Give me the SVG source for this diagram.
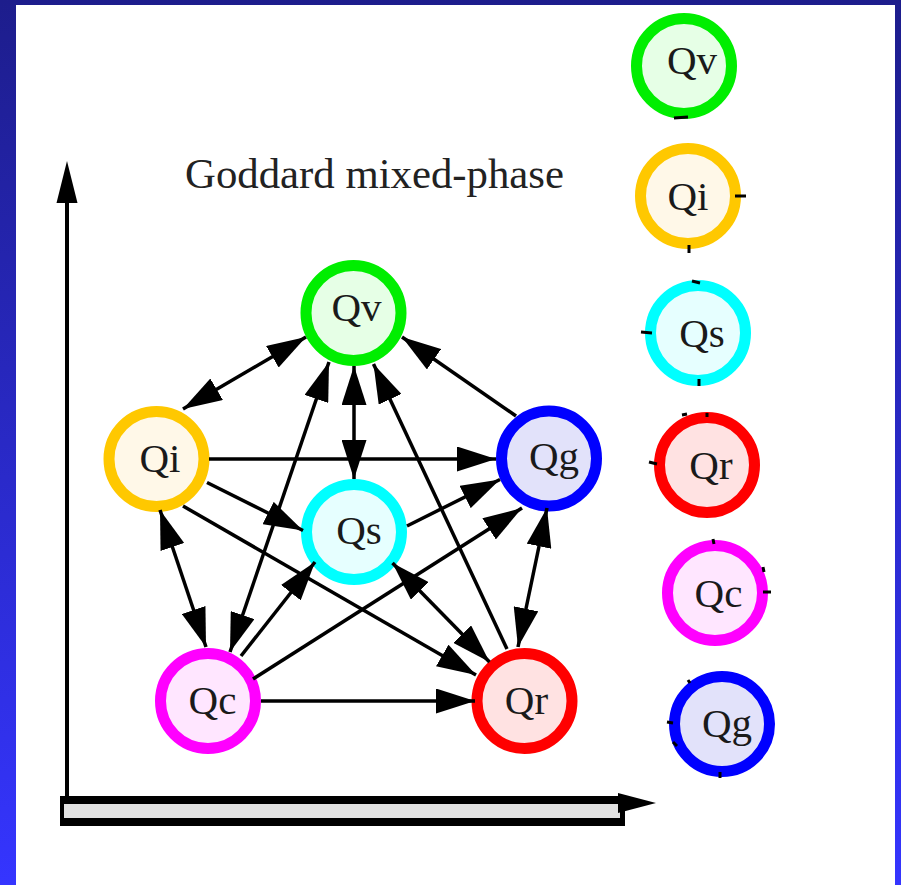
<svg xmlns="http://www.w3.org/2000/svg" width="901" height="885" viewBox="0 0 901 885">
<defs>
<linearGradient id="bg" x1="0" y1="0" x2="0" y2="1">
<stop offset="0" stop-color="#1d1d8c"/>
<stop offset="1" stop-color="#3535ff"/>
</linearGradient>
<marker id="ah" markerUnits="userSpaceOnUse" markerWidth="39" markerHeight="25" refX="39" refY="12.5" orient="auto-start-reverse">
<path d="M0,0 L39,12.5 L0,25 z" fill="#000"/>
</marker>
<style>
.ring{stroke-width:11}
.lbl{font-family:"Liberation Serif","Times New Roman",serif;font-size:41px;fill:#1a1a1a;text-anchor:middle}
.e{stroke:#000;stroke-width:3.5;fill:none}
.one{marker-end:url(#ah)}
.two{marker-start:url(#ah);marker-end:url(#ah)}
.tick{stroke:#000;stroke-width:3}
</style>
</defs>
<rect x="0" y="0" width="901" height="885" fill="url(#bg)"/>
<rect x="16" y="5" width="879" height="880" fill="#ffffff"/>

<text x="185" y="188" font-family="Liberation Serif, Times New Roman, serif" font-size="42" fill="#222" textLength="379" lengthAdjust="spacingAndGlyphs">Goddard mixed-phase</text>

<g id="axes">
<line x1="67" y1="200" x2="67" y2="798" stroke="#000" stroke-width="4"/>
<path d="M67,161 L77.5,203 L56.5,203 z" fill="#000"/>
<rect x="60" y="796" width="565" height="30" fill="#000"/>
<rect x="64" y="804" width="556" height="14" fill="#e2e2e2"/>
<path d="M618,793 L656,803 L618,813 z" fill="#000"/>
</g>

<g id="Qv"><circle class="ring" cx="353.5" cy="313" r="47.5" fill="#e6ffe6" stroke="#00ee00"/><text class="lbl" x="356.5" y="321">Qv</text></g>
<g id="Qi"><circle class="ring" cx="156.5" cy="459" r="47.5" fill="#fff8e8" stroke="#ffc800"/><text class="lbl" x="160" y="472">Qi</text></g>
<g id="Qg"><circle class="ring" cx="549" cy="458.5" r="47.5" fill="#e2e2fa" stroke="#0000ff"/><text class="lbl" x="554" y="470">Qg</text></g>
<g id="Qs"><circle class="ring" cx="354" cy="532" r="47.5" fill="#e6ffff" stroke="#00ffff"/><text class="lbl" x="359" y="544">Qs</text></g>
<g id="Qc"><circle class="ring" cx="208" cy="701" r="47.5" fill="#ffe6ff" stroke="#ff00ff"/><text class="lbl" x="212.5" y="714">Qc</text></g>
<g id="Qr"><circle class="ring" cx="524.5" cy="701" r="47.5" fill="#ffe2e2" stroke="#ff0000"/><text class="lbl" x="526.5" y="714">Qr</text></g>

<g id="Qv2"><circle class="ring" cx="684" cy="66" r="47.5" fill="#e6ffe6" stroke="#00ee00"/><text class="lbl" x="692" y="74">Qv</text></g>
<g id="Qi2"><circle class="ring" cx="688" cy="196" r="47.5" fill="#fff8e8" stroke="#ffc800"/><text class="lbl" x="688" y="210">Qi</text></g>
<g id="Qs2"><circle class="ring" cx="698" cy="333" r="47.5" fill="#e6ffff" stroke="#00ffff"/><text class="lbl" x="702" y="347">Qs</text></g>
<g id="Qr2"><circle class="ring" cx="707" cy="465" r="47.5" fill="#ffe2e2" stroke="#ff0000"/><text class="lbl" x="711" y="479">Qr</text></g>
<g id="Qc2"><circle class="ring" cx="715" cy="593" r="47.5" fill="#ffe6ff" stroke="#ff00ff"/><text class="lbl" x="718.5" y="607">Qc</text></g>
<g id="Qg2"><circle class="ring" cx="722" cy="724" r="47.5" fill="#e2e2fa" stroke="#0000ff"/><text class="lbl" x="727" y="737">Qg</text></g>

<g id="connectors">
<line class="e two" x1="183" y1="409" x2="306" y2="337"/>
<line class="e one" x1="516" y1="416" x2="402" y2="337"/>
<line class="e two" x1="354" y1="366" x2="354" y2="479"/>
<line class="e two" x1="230" y1="652" x2="329" y2="362"/>
<line class="e one" x1="507" y1="649" x2="373.5" y2="364"/>
<line class="e one" x1="209" y1="459" x2="496" y2="459"/>
<line class="e one" x1="207" y1="482.5" x2="303" y2="530.5"/>
<line class="e one" x1="183" y1="506" x2="476" y2="675"/>
<line class="e two" x1="160" y1="510" x2="206" y2="647"/>
<line class="e one" x1="407" y1="526" x2="500" y2="479.5"/>
<line class="e one" x1="241" y1="656" x2="315" y2="562"/>
<line class="e one" x1="253" y1="679" x2="522" y2="508"/>
<line class="e two" x1="392.5" y1="563" x2="489.5" y2="662"/>
<line class="e two" x1="547" y1="508" x2="518" y2="647"/>
<line class="e one" x1="261" y1="701" x2="475" y2="701"/>
</g>

<g id="ticks">
<line class="tick" x1="674" y1="118" x2="688" y2="117"/>
<line class="tick" x1="735" y1="196" x2="746" y2="196"/>
<line class="tick" x1="689" y1="245" x2="689" y2="253"/>
<line class="tick" x1="692" y1="281" x2="700" y2="283"/>
<line class="tick" x1="641" y1="332" x2="652" y2="333"/>
<line class="tick" x1="699" y1="379" x2="699" y2="386"/>
<line class="tick" x1="682" y1="415" x2="687" y2="414"/>
<line class="tick" x1="707" y1="413" x2="707" y2="417"/>
<line class="tick" x1="649" y1="462" x2="657" y2="464"/>
<line class="tick" x1="713" y1="539" x2="714" y2="544"/>
<line class="tick" x1="763" y1="567" x2="764" y2="572"/>
<line class="tick" x1="763" y1="592" x2="771" y2="592"/>
<line class="tick" x1="667" y1="722" x2="673" y2="723"/>
<line class="tick" x1="673" y1="742" x2="677" y2="746"/>
<line class="tick" x1="688" y1="680" x2="690" y2="683"/>
<line class="tick" x1="720" y1="772" x2="720" y2="778"/>
</g>
</svg>
